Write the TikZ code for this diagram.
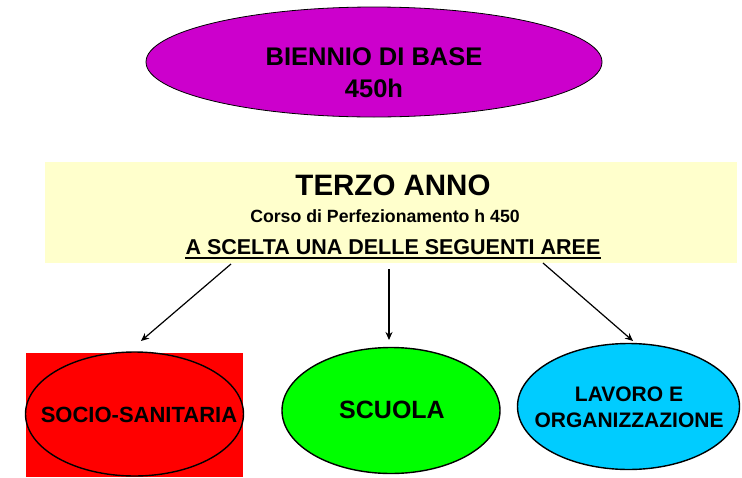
\documentclass[tikz,border=0pt]{standalone}
\usepackage{fontspec}
\setmainfont{Liberation Sans}
\usetikzlibrary{shapes.geometric,arrows.meta}
\definecolor{magbox}{HTML}{CC00CC}
\definecolor{yelbox}{HTML}{FFFFCC}
\definecolor{redbox}{HTML}{FF0000}
\definecolor{grnbox}{HTML}{00FF00}
\definecolor{cyanbox}{HTML}{00CCFF}
\tikzset{
  oval/.style={ellipse, draw=black, line width=1.4pt, inner sep=0pt},
  lbl/.style={inner sep=0pt, align=center, font=\bfseries},
  arr/.style={line width=1.2pt, -{Stealth[length=8pt,width=7pt]}},
}
\begin{document}
\begin{tikzpicture}[x=1pt,y=-1pt]
\useasboundingbox[fill=white] (0,0) rectangle (742,477);
% top ellipse
\node[oval, fill=magbox, line width=0.8pt, minimum width=456, minimum height=110] (bien) at (374,62) {};
\node[lbl, font=\bfseries\fontsize{25.5}{32}\selectfont] (bientxt) at (374,73) {BIENNIO DI BASE\\450h};
% yellow box
\node[fill=yelbox, minimum width=692, minimum height=101, inner sep=0pt] (terzo) at (391,212.5) {};
\node[lbl, font=\bfseries\fontsize{29.5}{30}\selectfont] (terzot) at (393,185) {TERZO ANNO};
\node[lbl, font=\bfseries\fontsize{17.7}{18}\selectfont] (corso) at (385,216) {Corso di Perfezionamento h 450};
\node[lbl, font=\bfseries\fontsize{21.5}{22}\selectfont, anchor=base] (scelta) at (393,254) {A SCELTA UNA DELLE SEGUENTI AREE};
\draw[line width=1.8pt] ([yshift=-4pt]scelta.base west) -- ([yshift=-4pt]scelta.base east);
% bottom
\node[fill=redbox, minimum width=217, minimum height=124, inner sep=0pt] (redrect) at (134.5,415) {};
\node[oval, fill=redbox, minimum width=218, minimum height=124] (socio) at (134.5,414) {};
\node[lbl, font=\bfseries\fontsize{22}{24}\selectfont] (sociot) at (139,415) {SOCIO-SANITARIA};
\node[oval, fill=grnbox, minimum width=218, minimum height=126] (scuola) at (391,410.5) {};
\node[lbl, font=\bfseries\fontsize{25}{26}\selectfont] (scuolat) at (392,410) {SCUOLA};
\node[oval, fill=cyanbox, minimum width=222, minimum height=126] (lavoro) at (628.5,406.5) {};
\node[lbl, font=\bfseries\fontsize{21}{26}\selectfont] (lavorot) at (629,407) {LAVORO E\\ORGANIZZAZIONE};
% arrows
\coordinate (s1) at (231,264);
\coordinate (e1) at (141,341);
\coordinate (s2) at (389,269);
\coordinate (e2) at (389,340);
\coordinate (s3) at (543,263);
\coordinate (e3) at (633,341);
\draw[arr] (s1) -- (e1);
\draw[arr] (s2) -- (e2);
\draw[arr] (s3) -- (e3);
\end{tikzpicture}
\end{document}
